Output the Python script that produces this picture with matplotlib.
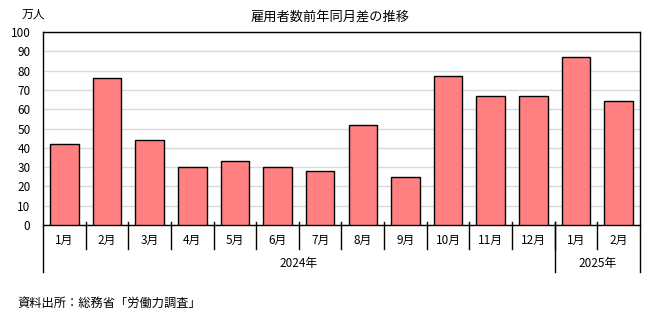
import numpy as np
import matplotlib
matplotlib.use("Agg")
import matplotlib.pyplot as plt

plt.rcParams['font.family'] = ['Noto Sans CJK JP', 'DejaVu Sans']

# data
months = ["1月", "2月", "3月", "4月", "5月", "6月", "7月", "8月", "9月",
          "10月", "11月", "12月", "1月", "2月"]
values = [42, 76, 44, 30, 33, 30, 28, 52, 25, 77, 67, 67, 87, 64]
years = ["2024年", "2025年"]
year_counts = [12, 2]

title_text = "雇用者数前年同月差の推移"
unit_text = "万人"
source_text = "資料出所：総務省「労働力調査」"

fig = plt.figure(figsize=(6.6, 3.33), dpi=100)
ax = fig.add_axes([43 / 660, 108 / 333, 597 / 660, 193 / 333])

x = np.arange(len(values))
ax.bar(x, values, width=0.67, color="#FF8080", edgecolor="black",
       linewidth=1.0, zorder=3)

ax.set_xlim(-0.5, len(values) - 0.5)
ax.set_ylim(0, 100)
ax.set_yticks(np.arange(0, 101, 10))
ax.tick_params(axis="y", length=0, pad=9, labelsize=8.5)
ax.set_xticks([])
ax.grid(axis="y", color="#d9d9d9", linewidth=1.0, zorder=0)
for s in ax.spines.values():
    s.set_color("black")
    s.set_linewidth(1.0)
ax.spines["left"].set_visible(False)
ax.spines["right"].set_visible(False)

trans = ax.get_xaxis_transform()
# month dividers
for i in range(len(values) - 1):
    ax.plot([i + 0.5, i + 0.5], [0.016, -0.124], color="black", lw=1.0,
            transform=trans, clip_on=False)
# month labels
for i, m in enumerate(months):
    ax.text(i, -0.078, m, transform=trans, ha="center", va="center",
            fontsize=8.5)

# year separators and labels
edges = np.concatenate([[0], np.cumsum(year_counts)]) - 0.5
for e in edges:
    ax.plot([e, e], [1.0 if e in (edges[0], edges[-1]) else 0.016, -0.2435],
            color="black", lw=1.0, transform=trans, clip_on=False)
for k, yr in enumerate(years):
    ax.text((edges[k] + edges[k + 1]) / 2, -0.197, yr, transform=trans,
            ha="center", va="center", fontsize=8.5)

fig.text(330 / 660, 1 - 17 / 333, title_text, ha="center", va="center",
         fontsize=9.5)
fig.text(22 / 660, 1 - 14 / 333, unit_text, ha="left", va="center",
         fontsize=8.5)
fig.text(17 / 660, 1 - 303 / 333, source_text, ha="left", va="center",
         fontsize=8.8)

fig.savefig("out.png", dpi=100)
